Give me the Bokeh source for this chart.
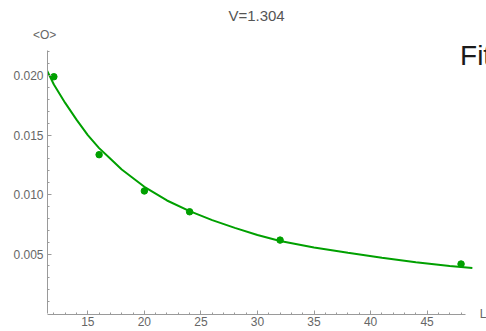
from bokeh.plotting import figure
from bokeh.models import FixedTicker, Label, Range1d, Title
from bokeh.embed import file_html
from bokeh.resources import INLINE

# data points
L_pts = [12, 16, 20, 24, 32, 48]
O_pts = [0.0199, 0.01335, 0.0103, 0.00855, 0.00617, 0.00416]

# fitted curve, values
L_fit = [11.2, 12, 13, 14, 15, 16, 17, 18, 20, 22, 24, 26, 28, 30, 32, 35, 38,
         41, 44, 47, 49]
O_fit = [0.0208, 0.01925, 0.0177, 0.0163, 0.0150, 0.0139, 0.0130, 0.0121,
         0.01065, 0.0095, 0.0086, 0.00785, 0.0072, 0.0066, 0.0061, 0.00555,
         0.0051, 0.00468, 0.0043, 0.0040, 0.00382]

x_major = [15, 20, 25, 30, 35, 40, 45]
x_minor = list(range(12, 49))
y_major = [0.005, 0.010, 0.015, 0.020]
y_labels = ["0.005", "0.010", "0.015", "0.020"]
y_minor = [0.001, 0.002, 0.003, 0.004, 0.006, 0.007, 0.008, 0.009, 0.011, 0.012,
           0.013, 0.014, 0.016, 0.017, 0.018, 0.019, 0.021, 0.022]

title_text = "V=1.304"
y_name = "<O>"
x_name = "L"
legend_text = "Fit"

GREEN = "#00A000"
AXIS = "#9a9a9a"
TXT = "#666666"
FONT = "Liberation Sans"

p = figure(width=486, height=331, output_backend="svg", toolbar_location=None,
           title_location=None,
           x_range=Range1d(11.437, 50.25), y_range=Range1d(0.0, 0.023451),
           min_border_left=47, min_border_right=0, min_border_top=34,
           min_border_bottom=18)
p.outline_line_color = None
p.grid.visible = False
p.background_fill_color = "white"
p.border_fill_color = "white"

p.line(L_fit, O_fit, line_color=GREEN, line_width=2)
p.scatter(L_pts, O_pts, marker="circle", size=6.5, fill_color=GREEN, line_color=GREEN)

for ax in (p.xaxis[0], p.yaxis[0]):
    ax.axis_line_color = AXIS
    ax.major_tick_line_color = AXIS
    ax.minor_tick_line_color = AXIS
    ax.major_tick_in = 4
    ax.major_tick_out = 0
    ax.minor_tick_in = 2
    ax.minor_tick_out = 0
    ax.major_label_text_color = TXT
    ax.major_label_text_font = FONT
    ax.major_label_text_font_size = "12px"

p.xaxis[0].ticker = FixedTicker(ticks=x_major, minor_ticks=x_minor)
p.xaxis[0].bounds = (11.43, 48.4)
p.xaxis[0].major_label_standoff = 2
p.yaxis[0].ticker = FixedTicker(ticks=y_major, minor_ticks=y_minor)
p.yaxis[0].bounds = (0.0, 0.0221)
p.yaxis[0].major_label_standoff = 4
p.yaxis[0].major_label_overrides = {v: s for v, s in zip(y_major, y_labels)}

# axis names and title as side-panel titles
t_y = Title(text=y_name, align="left", offset=-14.5, vertical_align="bottom",
            standoff=-14, text_font=FONT, text_font_size="12px",
            text_font_style="normal", text_color=TXT)
p.add_layout(t_y, "above")
t_main = Title(text=title_text, align="left", offset=180.9, vertical_align="top",
               standoff=12.8, text_font=FONT, text_font_size="15px",
               text_font_style="normal", text_color="#555555")
p.add_layout(t_main, "above")
t_x = Title(text=x_name, align="right", offset=0, vertical_align="middle",
            standoff=-15.4, text_font=FONT, text_font_size="12px",
            text_font_style="normal", text_color=TXT)
p.below = [t_x] + list(p.below)

p.add_layout(Label(x=47.91, y=0.021686, text=legend_text, text_align="left",
                   text_baseline="alphabetic", text_font=FONT, text_font_size="28px",
                   text_color="#1a1a1a"))

open("out.html", "w").write(file_html(p, INLINE))
